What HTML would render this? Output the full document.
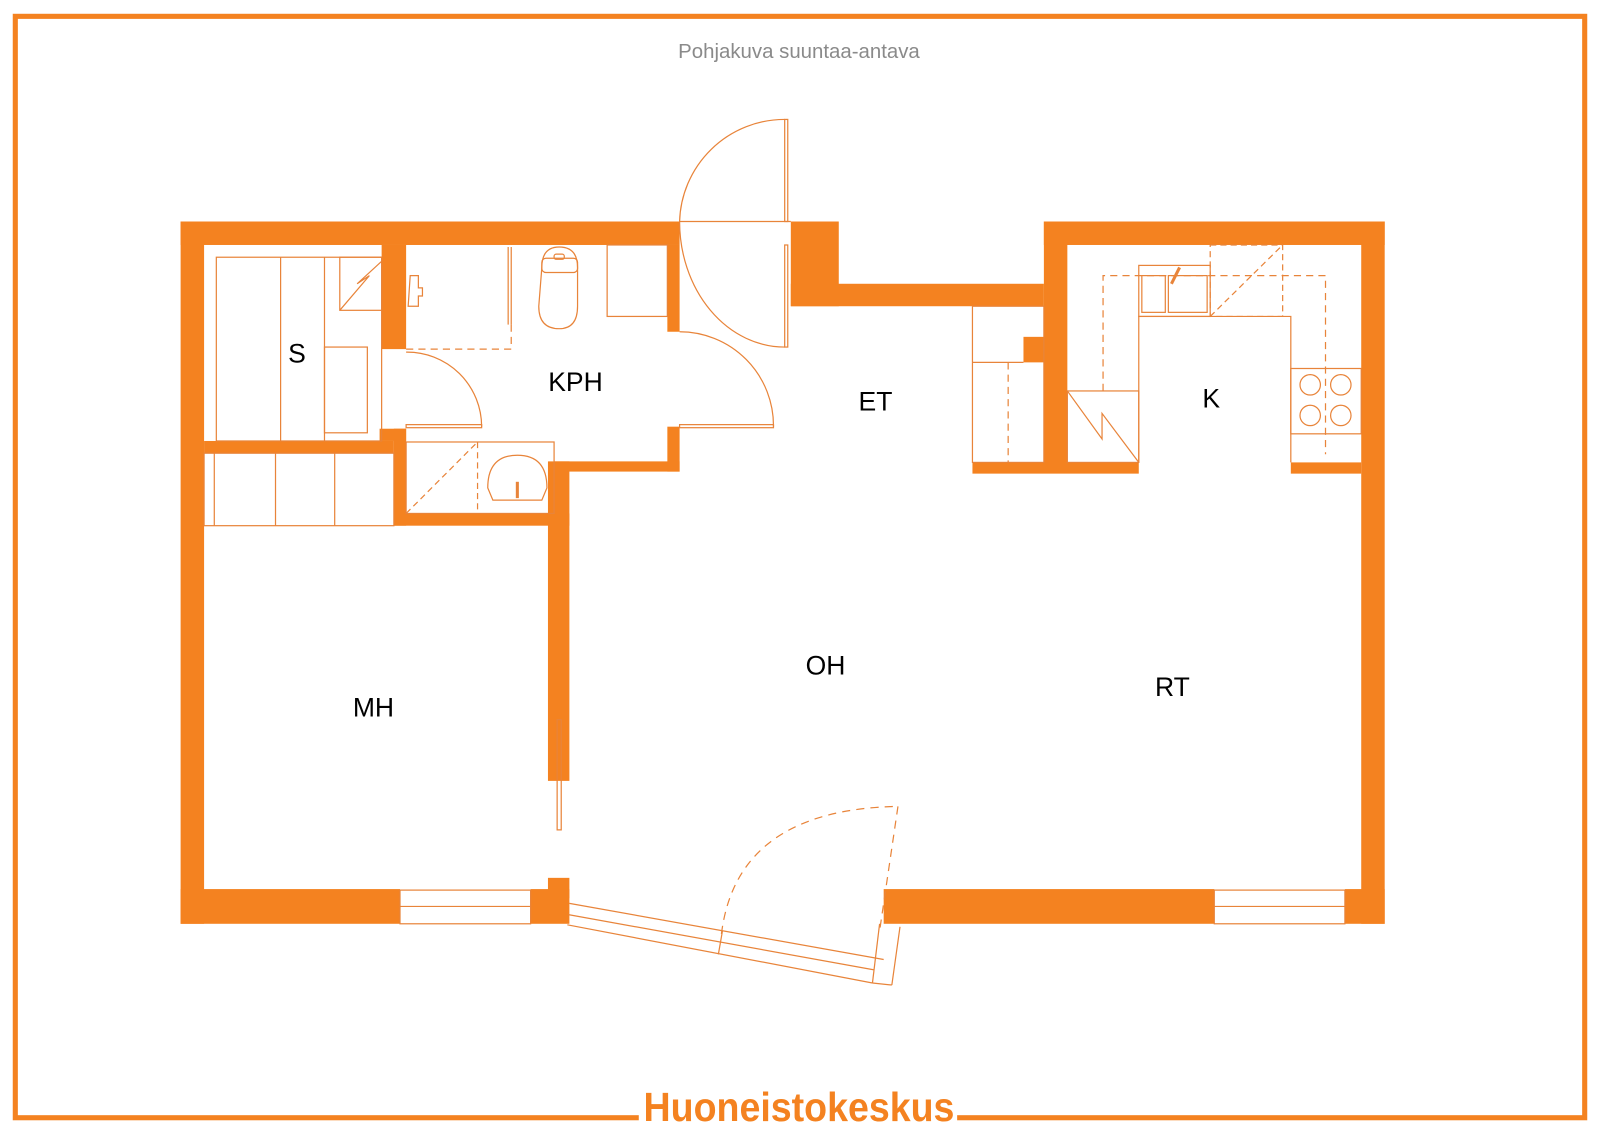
<!DOCTYPE html>
<html><head><meta charset="utf-8"><style>html,body{margin:0;padding:0;background:#fff}svg{display:block}</style></head><body>
<svg width="1600" height="1131" viewBox="0 0 1568 1108" preserveAspectRatio="none" xmlns="http://www.w3.org/2000/svg" font-family="Liberation Sans, sans-serif">
<rect x="0" y="0" width="1568" height="1108" fill="#fff"/>
<rect x="15" y="16" width="1538" height="1079" fill="none" stroke="#F48220" stroke-width="5"/>
<text x="783" y="57" text-anchor="middle" font-size="20" fill="#8a8a8a">Pohjakuva suuntaa-antava</text>
<rect x="626" y="1080" width="312" height="24" fill="#fff"/>
<text x="783" y="1098" text-anchor="middle" font-size="40" font-weight="bold" fill="#F48220" transform="translate(783 0) scale(0.92 1) translate(-783 0)">Huoneistokeskus</text>
<g fill="#F48220">
<rect x="177" y="217" width="489" height="23"/>
<rect x="177" y="217" width="23" height="688"/>
<rect x="177" y="871" width="215" height="34"/>
<rect x="520" y="871" width="38" height="34"/>
<rect x="537" y="860" width="21" height="20"/>
<rect x="866" y="871" width="324" height="34"/>
<rect x="1318" y="871" width="39" height="34"/>
<rect x="1334" y="217" width="23" height="688"/>
<rect x="1023" y="217" width="334" height="23"/>
<rect x="1023" y="217" width="23" height="245"/>
<rect x="775" y="217" width="47" height="83"/>
<rect x="775" y="278" width="248" height="22"/>
<rect x="1003" y="330" width="20" height="25"/>
<rect x="953" y="453" width="163" height="11"/>
<rect x="1265" y="453" width="69" height="11"/>
<rect x="374" y="240" width="24" height="102"/>
<rect x="654" y="240" width="12" height="85"/>
<rect x="654" y="418" width="12" height="44"/>
<rect x="543" y="452" width="123" height="10"/>
<rect x="537" y="452" width="21" height="313"/>
<rect x="200" y="432" width="186" height="12"/>
<rect x="372" y="420" width="26" height="12"/>
<rect x="386" y="420" width="12" height="95"/>
<rect x="386" y="503" width="172" height="12"/>
</g>
<g fill="none" stroke="#E8843A" stroke-width="1.2">
<rect x="392" y="872" width="128" height="33" fill="#fff"/><line x1="392" y1="888" x2="520" y2="888"/>
<rect x="1190" y="872" width="128" height="33" fill="#fff"/><line x1="1190" y1="888" x2="1318" y2="888"/>
<rect x="212" y="252" width="162" height="180"/>
<line x1="275" y1="252" x2="275" y2="432"/><line x1="318" y1="252" x2="318" y2="432"/>
<rect x="318" y="340" width="42" height="84"/>
<rect x="333" y="252" width="41" height="52"/>
<polyline points="333,304 362,270 350,278 374,256"/>
<rect x="200" y="444" width="186" height="71"/>
<line x1="210" y1="444" x2="210" y2="515"/><line x1="270" y1="444" x2="270" y2="515"/><line x1="328" y1="444" x2="328" y2="515"/>
<line x1="498" y1="242" x2="498" y2="318"/><line x1="501" y1="242" x2="501" y2="318"/>
<polyline points="501,318 501,342 398,342" stroke-dasharray="7,5"/>
<path d="M531,262 Q531,242 548,242 Q566,242 566,262 L566,300 Q566,322 548,322 Q528,322 528,300 Z"/>
<rect x="531" y="253" width="35" height="14" rx="4"/>
<rect x="543" y="249" width="10" height="5" rx="2"/>
<rect x="595" y="240" width="59" height="70"/>
<path d="M402,270 h8 v12 h4 v8 h-4 v10 h-10 z"/>
<rect x="398" y="433" width="145" height="70"/>
<line x1="468" y1="433" x2="468" y2="503" stroke-dasharray="6,4"/>
<line x1="398" y1="503" x2="468" y2="433" stroke-dasharray="6,4"/>
<path d="M478,478 Q478,446 507,446 Q536,446 536,478 L531,490 L483,490 Z"/>
<line x1="507" y1="472" x2="507" y2="488" stroke-width="3"/>
<path d="M398,345 A73,73 0 0 1 472,418"/><rect x="398" y="416" width="74" height="3"/>
<path d="M666,325 A92,92 0 0 1 758,418"/><rect x="666" y="416" width="92" height="3"/>
<rect x="769" y="117" width="3" height="100"/><path d="M769,117 A103,103 0 0 0 666,217"/>
<rect x="769" y="240" width="3" height="100"/><path d="M666,217 A103,123 0 0 0 769,340"/>
<line x1="666" y1="217" x2="775" y2="217"/>
<rect x="546" y="705" width="4" height="108"/>
<rect x="953" y="300" width="70" height="153"/>
<line x1="953" y1="355" x2="1003" y2="355"/>
<line x1="988" y1="355" x2="988" y2="453" stroke-dasharray="7,5"/>
<rect x="1046" y="383" width="70" height="70"/>
<polyline points="1046,383 1080,430 1080,405 1116,453"/>
<polyline points="1116,453 1116,310 1265,310 1265,453"/>
<polyline points="1081,383 1081,270 1299,270 1299,445" stroke-dasharray="7,5"/>
<rect x="1116" y="260" width="70" height="50"/>
<rect x="1119" y="270" width="23" height="36"/><rect x="1145" y="270" width="38" height="36"/>
<line x1="1148" y1="278" x2="1156" y2="262" stroke-width="3"/>
<rect x="1186" y="240" width="71" height="70" stroke-dasharray="6,4"/>
<line x1="1186" y1="310" x2="1257" y2="240" stroke-dasharray="6,4"/>
<rect x="1265" y="361" width="69" height="64"/>
<circle cx="1284" cy="377" r="10"/><circle cx="1314" cy="377" r="10"/>
<circle cx="1284" cy="407" r="10"/><circle cx="1314" cy="407" r="10"/>
<path d="M707,915 Q722,793 880,790" stroke-dasharray="8,6"/>
<line x1="880" y1="790" x2="862" y2="912" stroke-dasharray="8,6"/>
<line x1="558" y1="885" x2="866" y2="940"/>
<line x1="557" y1="896" x2="856" y2="950"/>
<line x1="556" y1="906" x2="855" y2="963"/>
<line x1="862" y1="905" x2="855" y2="963"/>
<line x1="882" y1="908" x2="874" y2="965"/>
<line x1="855" y1="963" x2="874" y2="965"/>
<line x1="708" y1="912" x2="704" y2="935"/>
</g>
<g font-size="26" fill="#000" text-anchor="middle">
<text x="291" y="355">S</text>
<text x="564" y="383">KPH</text>
<text x="858" y="402">ET</text>
<text x="1187" y="399">K</text>
<text x="809" y="661">OH</text>
<text x="366" y="702">MH</text>
<text x="1149" y="682">RT</text>
</g>
</svg>
</body></html>
